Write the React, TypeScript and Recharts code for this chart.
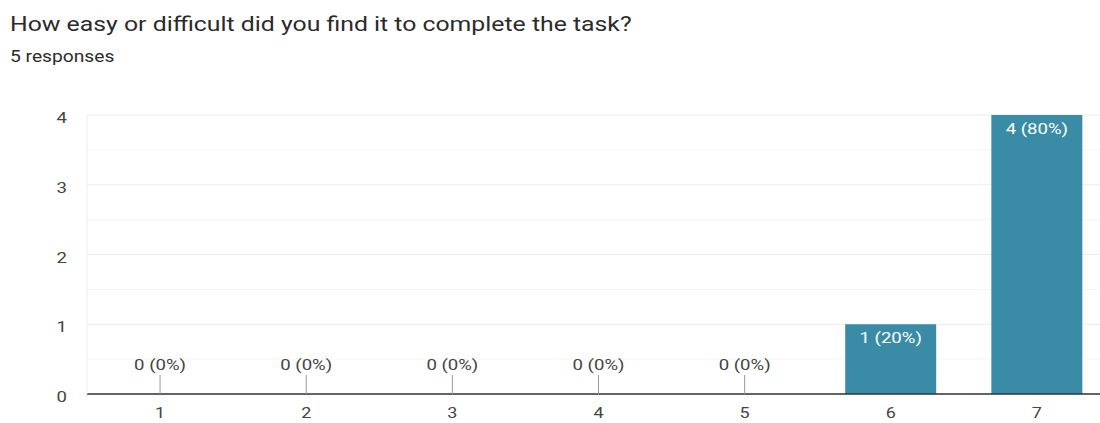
import { ComposedChart, Bar, Line, XAxis, YAxis, CartesianGrid, LabelList } from 'recharts'

const categories = ['1', '2', '3', '4', '5', '6', '7']
const responses = [0, 0, 0, 0, 0, 1, 4]
const yTicks = [0, 1, 2, 3, 4]
const minorTicks = [0.5, 1.5, 2.5, 3.5]

const BAR_COLOR = '#3a8ca6'
const FONT = 'Roboto, Arial, sans-serif'
// the reference text is a bit wider than plain Roboto
const STRETCH = 1.2

const total = responses.reduce((a, b) => a + b, 0)

const data = categories.map((c, i) => ({ name: c, value: responses[i] }))

const pctText = (v: number) => `${v} (${total > 0 ? Math.round((v / total) * 100) : 0}%)`

function WideText({ x, y, anchor, fill, size, children }: any) {
  return (
    <text
      transform={`translate(${x} ${y}) scale(${STRETCH} 1)`}
      x={0}
      y={0}
      textAnchor={anchor}
      fill={fill}
      fontSize={size}
      fontFamily={FONT}
    >
      {children}
    </text>
  )
}

function XTick(props: any) {
  const { x, y, payload } = props
  return (
    <WideText x={x} y={y + 20} anchor="middle" fill="#444" size={15}>
      {payload.value}
    </WideText>
  )
}

function YTick(props: any) {
  const { x, y, payload } = props
  return (
    <WideText x={x} y={y + 8} anchor="end" fill="#444" size={15.5}>
      {payload.value}
    </WideText>
  )
}

function BarLabel(props: any) {
  const { x, y, width, value } = props
  if (!value) return null
  return (
    <WideText x={x + width / 2} y={y + 19} anchor="middle" fill="#fff" size={15.5}>
      {pctText(value)}
    </WideText>
  )
}

function ZeroMark(props: any) {
  const { cx, cy, value, index } = props
  if (value !== 0) return <g key={`z${index}`} />
  return (
    <g key={`z${index}`}>
      <line x1={cx} x2={cx} y1={cy - 19} y2={cy} stroke="#999" strokeWidth={1} />
      <WideText x={cx} y={cy - 24} anchor="middle" fill="#444" size={15.5}>
        {pctText(value)}
      </WideText>
    </g>
  )
}

export default function App() {
  return (
    <div
      style={{
        position: 'absolute',
        left: 0,
        top: 0,
        width: 1100,
        height: 423,
        overflow: 'hidden',
        background: '#fff',
        fontFamily: FONT,
      }}
    >
      <div
        style={{
          position: 'absolute',
          left: 10,
          top: 12,
          fontSize: 20,
          color: '#2b2b2b',
          whiteSpace: 'nowrap',
          transform: 'scaleX(1.24)',
          transformOrigin: 'left top',
        }}
      >
        How easy or difficult did you find it to complete the task?
      </div>
      <div
        style={{
          position: 'absolute',
          left: 10,
          top: 47,
          fontSize: 16,
          color: '#2b2b2b',
          whiteSpace: 'nowrap',
          transform: `scaleX(${STRETCH})`,
          transformOrigin: 'left top',
        }}
      >
        5 responses
      </div>
      <div style={{ position: 'absolute', left: 0, top: 0 }}>
        <ComposedChart
          width={1110}
          height={423}
          data={data}
          margin={{ top: 115, right: 0, bottom: 0, left: 0 }}
          barCategoryGap="18.8%"
        >
          <CartesianGrid horizontalValues={minorTicks} vertical={false} stroke="#f5f5f5" />
          <CartesianGrid vertical={false} stroke="#ebebeb" />
          <XAxis
            dataKey="name"
            height={29}
            tickLine={false}
            tickSize={0}
            tickMargin={4}
            axisLine={{ stroke: '#333', strokeWidth: 1.5 }}
            tick={<XTick />}
          />
          <YAxis
            width={87}
            domain={[0, 4]}
            ticks={yTicks}
            tickLine={false}
            tickSize={0}
            tickMargin={20}
            axisLine={{ stroke: '#eeeeee' }}
            tick={<YTick />}
          />
          <Bar dataKey="value" fill={BAR_COLOR} isAnimationActive={false}>
            <LabelList dataKey="value" content={BarLabel} />
          </Bar>
          <Line
            dataKey="value"
            stroke="none"
            dot={ZeroMark}
            activeDot={false}
            isAnimationActive={false}
          />
        </ComposedChart>
      </div>
    </div>
  )
}
